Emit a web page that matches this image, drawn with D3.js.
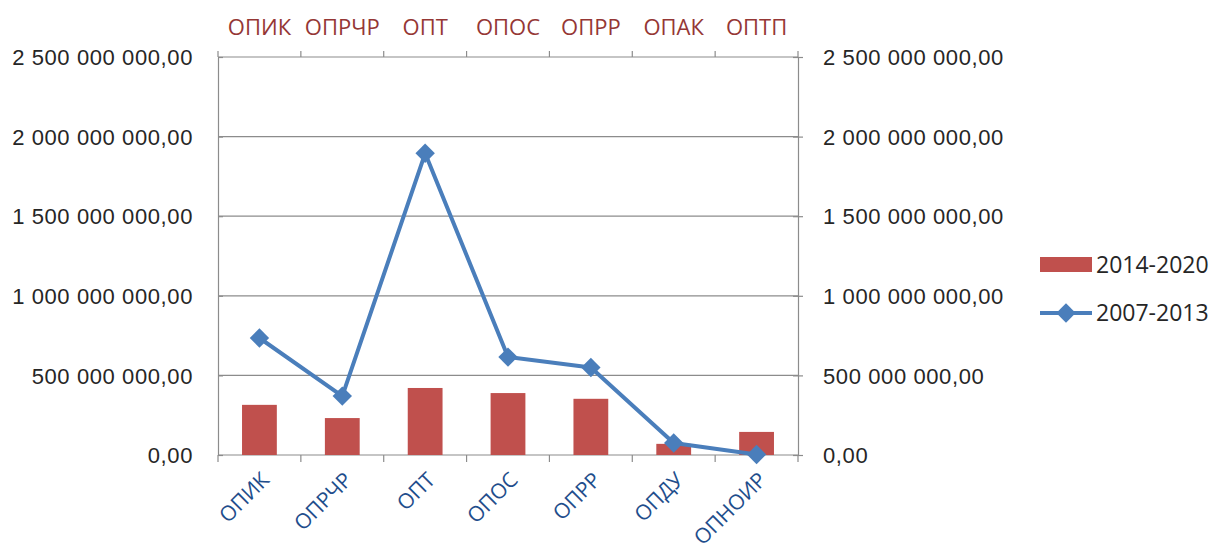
<!DOCTYPE html>
<html>
<head>
<meta charset="utf-8">
<script src="https://cdn.jsdelivr.net/npm/d3@7"></script>
<style>
	body { margin: 0; background: #fff; }
	svg { display: block; font-family: "Open Sans", "Noto Sans", sans-serif; }
</style>
</head>
<body>
<div id="chart"></div>
<script>
// categories on the bottom axis and on the top axis
var categories = ["ОПИК", "ОПРЧР", "ОПТ", "ОПОС", "ОПРР", "ОПДУ", "ОПНОИР"];
var topLabels = ["ОПИК", "ОПРЧР", "ОПТ", "ОПОС", "ОПРР", "ОПАК", "ОПТП"];

// 2014-2020 (bars) and 2007-2013 (line)
var values2014 = [315000000, 232000000, 421000000, 389000000, 353000000, 70000000, 145000000];
var values2007 = [735000000, 370000000, 1895000000, 615000000, 550000000, 75000000, 3000000];

var yTicks = [0, 500000000, 1000000000, 1500000000, 2000000000, 2500000000];

var width = 1216, height = 557;
var margin = {left: 218, right: 418, top: 57, bottom: 102};

var svg = d3.select("#chart")
	.append("svg")
	.attr("width", width)
	.attr("height", height);

var ru = d3.formatLocale({decimal: ",", thousands: "\u00a0", grouping: [3], currency: ["", ""]});
var fmt = ru.format(",.2f");

var x = d3.scaleBand()
	.domain(d3.range(categories.length))
	.range([margin.left, width - margin.right]);

var y = d3.scaleLinear()
	.domain([0, 2500000000])
	.range([height - margin.bottom, margin.top]);

var axisColor = "#8c8c8c";

// horizontal gridlines
svg.append("g")
	.selectAll("line")
	.data(yTicks)
	.enter()
	.append("line")
	.attr("x1", margin.left)
	.attr("x2", width - margin.right)
	.attr("y1", function (d) { return y(d); })
	.attr("y2", function (d) { return y(d); })
	.style("stroke", axisColor)
	.style("stroke-width", 1.2);

// left axis
var left = svg.append("g")
	.attr("transform", "translate(" + margin.left + ",0)")
	.call(d3.axisLeft(y).tickValues(yTicks).tickFormat(fmt).tickSizeInner(5).tickSizeOuter(0).tickPadding(20));
left.selectAll(".tick line").attr("x2", 5);

// right axis
var right = svg.append("g")
	.attr("transform", "translate(" + (width - margin.right) + ",0)")
	.call(d3.axisRight(y).tickValues(yTicks).tickFormat(fmt).tickSizeInner(5).tickSizeOuter(0).tickPadding(20));
right.selectAll(".tick line").attr("x1", -5);

[left, right].forEach(function (g) {
	g.select(".domain").style("stroke", axisColor).style("stroke-width", 1.2);
	g.selectAll(".tick line").style("stroke", axisColor).style("stroke-width", 1.2);
	g.selectAll("text")
		.style("font-size", "22px")
		.style("letter-spacing", "0.6px")
		.style("fill", "#262626")
		.attr("dy", "0.35em");
});

// bottom axis: ticks on category boundaries
var boundaries = d3.range(categories.length + 1).map(function (i) {
	return margin.left + i * x.step();
});

svg.append("g")
	.selectAll("line")
	.data(boundaries)
	.enter()
	.append("line")
	.attr("x1", function (d) { return d; })
	.attr("x2", function (d) { return d; })
	.attr("y1", y(0))
	.attr("y2", y(0) + 7)
	.style("stroke", axisColor)
	.style("stroke-width", 1.2);

svg.append("g")
	.selectAll("line")
	.data(boundaries)
	.enter()
	.append("line")
	.attr("x1", function (d) { return d; })
	.attr("x2", function (d) { return d; })
	.attr("y1", margin.top)
	.attr("y2", margin.top - 6)
	.style("stroke", axisColor)
	.style("stroke-width", 1.2);

// bottom labels, rotated
svg.append("g")
	.selectAll("text")
	.data(categories)
	.enter()
	.append("text")
	.attr("transform", function (d, i) {
		var cx = x(i) + x.bandwidth() / 2 + 6;
		return "translate(" + cx + "," + (y(0) + 21) + ") rotate(-45)";
	})
	.attr("text-anchor", "end")
	.attr("dy", "0.35em")
	.style("font-size", "21px")
	.style("fill", "#1f4e8c")
	.text(function (d) { return d; });

// top labels
svg.append("g")
	.selectAll("text")
	.data(topLabels)
	.enter()
	.append("text")
	.attr("x", function (d, i) { return x(i) + x.bandwidth() / 2; })
	.attr("y", 27)
	.attr("text-anchor", "middle")
	.attr("dy", "0.35em")
	.style("font-size", "22px")
	.style("fill", "#953735")
	.text(function (d) { return d; });

// bars
var barW = x.bandwidth() * 0.42;
svg.append("g")
	.selectAll("rect")
	.data(values2014)
	.enter()
	.append("rect")
	.attr("x", function (d, i) { return x(i) + x.bandwidth() / 2 - barW / 2; })
	.attr("y", function (d) { return y(d); })
	.attr("width", barW)
	.attr("height", function (d) { return y(0) - y(d); })
	.style("fill", "#c0504d");

// line
var lineColor = "#4a7ebb";
var line = d3.line()
	.x(function (d, i) { return x(i) + x.bandwidth() / 2; })
	.y(function (d) { return y(d); });

svg.append("path")
	.datum(values2007)
	.attr("d", line)
	.style("fill", "none")
	.style("stroke", lineColor)
	.style("stroke-width", 4)
	.style("stroke-linejoin", "round");

var diamond = d3.symbol().type(d3.symbolDiamond2).size(240);
svg.append("g")
	.selectAll("path")
	.data(values2007)
	.enter()
	.append("path")
	.attr("d", diamond)
	.attr("transform", function (d, i) {
		return "translate(" + (x(i) + x.bandwidth() / 2) + "," + y(d) + ")";
	})
	.style("fill", lineColor);

// legend
var legend = svg.append("g").attr("class", "legend");

legend.append("rect")
	.attr("x", 1040)
	.attr("y", 257)
	.attr("width", 52)
	.attr("height", 15)
	.style("fill", "#c0504d");

legend.append("text")
	.attr("x", 1096)
	.attr("y", 265)
	.attr("dy", "0.35em")
	.style("font-size", "23px")
	.style("fill", "#262626")
	.text("2014-2020");

legend.append("line")
	.attr("x1", 1040)
	.attr("x2", 1092)
	.attr("y1", 313)
	.attr("y2", 313)
	.style("stroke", lineColor)
	.style("stroke-width", 4);

legend.append("path")
	.attr("d", diamond)
	.attr("transform", "translate(1066,313)")
	.style("fill", lineColor);

legend.append("text")
	.attr("x", 1096)
	.attr("y", 313)
	.attr("dy", "0.35em")
	.style("font-size", "23px")
	.style("fill", "#262626")
	.text("2007-2013");
</script>
</body>
</html>
